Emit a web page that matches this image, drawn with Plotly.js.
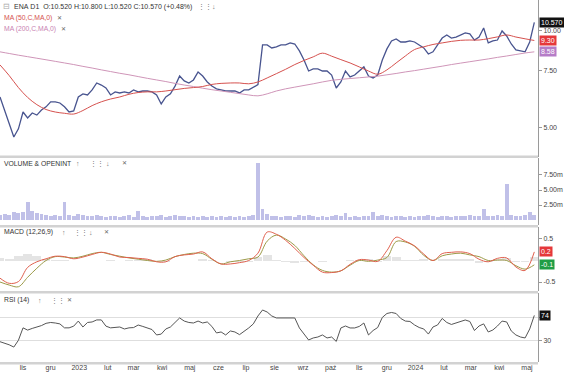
<!DOCTYPE html>
<html>
<head>
<meta charset="utf-8">
<script src="https://cdn.plot.ly/plotly-3.0.1.min.js"></script>
<style>html,body{margin:0;padding:0;background:#fff;}#chart{width:564px;height:378px;}</style>
</head>
<body>
<div id="chart"></div>
<script>
// ---- data (sampled every 5 calendar days from 2022-10-07) ----
const startDate = '2022-10-07';
const stepDays = 5;

const price = [6.23,5.64,5.11,4.69,4.97,5.60,5.37,5.56,5.48,5.68,
 5.81,6.02,6.02,5.97,5.81,5.60,5.64,6.23,6.37,6.32,
 6.55,6.88,6.78,6.64,6.32,6.46,6.41,6.46,6.41,6.55,
 6.46,6.50,6.50,6.46,6.32,5.93,6.23,6.37,6.73,7.23,
 6.98,6.88,7.03,7.44,7.23,6.93,6.73,6.60,6.55,6.50,
 6.50,6.50,6.41,6.55,6.55,6.69,6.80,9.01,9.01,8.82,
 8.89,9.01,9.01,9.14,9.07,8.64,8.10,7.49,7.60,7.60,
 7.49,7.49,7.28,6.64,6.93,7.49,7.18,7.28,7.49,7.71,
 7.23,7.13,7.28,8.10,8.76,9.27,9.40,9.20,9.20,9.27,
 9.20,9.01,8.82,8.45,8.58,9.01,9.46,9.67,9.46,9.53,
 9.67,9.81,9.74,9.33,9.53,10.16,9.14,9.27,9.33,9.95,
 9.60,9.07,8.70,8.64,8.58,9.20,10.57];

// every second sample (10-day step)
const ma50 = [7.82,7.25,6.66,6.21,5.90,5.70,5.60,5.55,5.52,5.66,
 5.86,6.02,6.14,6.23,6.35,6.43,6.46,6.46,6.50,6.56,
 6.62,6.66,6.71,6.81,6.86,6.88,6.88,6.84,6.93,7.13,
 7.35,7.58,7.84,8.07,8.28,8.50,8.32,8.12,7.93,7.71,
 7.49,7.32,7.55,7.93,8.33,8.72,8.89,9.04,9.14,9.24,
 9.31,9.33,9.33,9.42,9.54,9.67,9.53,9.41,9.30];

const ma200 = [8.58,8.48,8.38,8.29,8.20,8.11,8.02,7.93,7.84,7.74,
 7.65,7.55,7.46,7.37,7.29,7.20,7.11,7.03,6.95,6.86,
 6.78,6.71,6.63,6.56,6.50,6.44,6.38,6.32,6.28,6.37,
 6.50,6.60,6.68,6.76,6.84,6.93,7.01,7.06,7.10,7.14,
 7.18,7.22,7.29,7.36,7.44,7.51,7.59,7.67,7.75,7.84,
 7.92,8.00,8.08,8.16,8.25,8.33,8.42,8.51,8.58];

const volumeM = [0.8,1.0,0.9,1.3,1.1,1.4,3.0,1.5,1.2,1.0,
 0.8,0.7,0.9,0.6,3.0,0.8,0.6,1.0,0.9,0.7,
 0.6,0.8,0.7,0.5,0.6,0.7,0.5,0.6,0.8,0.5,
 1.5,0.6,0.5,0.7,0.6,0.8,0.5,0.6,0.9,0.7,
 0.6,0.5,0.7,0.5,0.6,0.5,0.7,0.5,0.6,0.5,
 0.7,0.5,0.6,0.5,0.6,0.8,9.5,1.8,1.0,0.7,
 0.6,0.5,0.7,0.6,0.5,0.9,0.7,0.8,0.6,0.5,
 0.6,0.5,0.6,0.9,0.6,1.2,0.5,0.6,0.5,0.7,
 0.6,1.3,0.7,0.8,0.6,0.5,0.7,0.6,0.5,0.6,
 0.5,0.7,0.6,0.9,0.6,0.5,0.7,0.6,0.5,0.6,
 0.7,0.6,0.8,0.6,0.7,1.8,0.7,0.6,0.8,0.6,
 6.0,0.8,0.7,0.6,0.8,1.3,0.9];

const macdLine = [-0.41,-0.53,-0.49,-0.16,-0.03,0.04,0.10,0.09,0.04,0.08,
 0.14,0.19,0.15,0.08,0.07,0.05,0.03,-0.03,-0.03,0.09,
 0.13,0.15,0.20,0.04,-0.08,-0.08,-0.05,0.00,0.17,0.66,
 0.61,0.47,0.28,0.07,-0.11,-0.27,-0.28,-0.24,-0.09,0.02,
 0.01,-0.02,0.23,0.54,0.45,0.34,0.15,0.00,0.16,0.19,
 0.20,0.16,0.03,-0.03,0.05,0.06,-0.15,-0.23,0.20];

const signalLine = [-0.50,-0.57,-0.61,-0.39,-0.18,0.00,0.09,0.08,0.06,0.10,
 0.16,0.19,0.14,0.10,0.06,0.03,0.00,-0.02,0.01,0.09,
 0.14,0.17,0.16,0.03,-0.08,-0.03,0.00,0.04,0.08,0.45,
 0.59,0.50,0.35,0.11,-0.10,-0.23,-0.27,-0.24,-0.11,0.00,
 -0.02,0.01,0.07,0.44,0.43,0.33,0.12,0.00,0.11,0.15,
 0.17,0.13,0.09,0.00,0.01,0.00,-0.12,-0.20,-0.10];

const macdHist = [0.06,0.04,0.10,0.14,0.10,0.04,0.01,0.01,-0.02,-0.02,
 -0.02,0.00,0.01,-0.02,0.01,0.02,0.03,-0.01,-0.04,0.00,
 -0.01,-0.02,0.04,0.01,0.00,-0.04,-0.04,-0.03,0.07,0.12,
 0.02,-0.03,-0.05,-0.04,-0.01,-0.03,-0.01,0.00,0.02,0.02,
 0.03,-0.03,0.10,0.08,0.02,0.01,0.03,0.00,0.04,0.04,
 0.03,0.03,-0.05,-0.03,0.04,0.05,-0.03,-0.03,0.08];

const rsi = [27.5,25,22,18,30,52,48,51,53.5,56,
 60,61.5,60.6,59,52,52,55,64,53.5,61.5,
 62.4,66,66,55,52,52.5,53.5,50,52,52.5,
 57,54.5,52,49,39.4,41,50,53.5,61.5,69.5,
 64,61.5,60.6,64,60.6,62.4,54.5,43,44.7,39.4,
 46.5,44.7,40,45.5,51.8,59,73,83.6,80,73,
 69.5,69.5,69.5,70.4,69.5,51.8,41,30.5,34.1,35.8,
 39.4,34.1,35.8,28,51.8,55.3,51.8,51.8,54.5,60.6,
 39.4,47.3,52.6,70.4,77.4,79.2,77.4,68.6,64,63.3,
 57.1,52.6,50,41,53.5,57.1,68.6,61.5,58,60.6,
 62.4,65.9,63.3,47.3,55.3,59,44.7,48.2,55.3,64,
 62.4,46.5,39.4,35.8,34.1,50,74];

const monthTickDates = ['2022-11-01','2022-12-01','2023-01-01','2023-02-01','2023-03-01','2023-04-01','2023-05-01','2023-06-01','2023-07-01','2023-08-01','2023-09-01','2023-10-01','2023-11-01','2023-12-01','2024-01-01','2024-02-01','2024-03-01','2024-04-01','2024-05-01'];
const monthTickLabels = ['lis','gru','2023','lut','mar','kwi','maj','cze','lip','sie','wrz','paź','lis','gru','2024','lut','mar','kwi','maj'];

const headerText = 'ENA\u00a0D1\u00a0\u00a0O:10.520\u00a0H:10.800\u00a0L:10.520\u00a0C:10.570\u00a0(+0.48%)';

// ---- helpers ----
const DAY = 864e5;
const t0 = Date.parse(startDate + 'T00:00:00Z');
const dateAt = i => new Date(t0 + i * stepDays * DAY).toISOString().slice(0, 10);
const dates5 = price.map((_, i) => dateAt(i));
const dates10 = ma50.map((_, j) => dateAt(2 * j));

const W = 538, H = 363;
const px = x => x / W;
const py = y => (H - y) / H;
const last = a => a[a.length - 1];

const FONT = 'Liberation Sans, Arial, sans-serif';

const traces = [
  {x: dates5, y: price, type: 'scatter', mode: 'lines', xaxis: 'x', yaxis: 'y',
   line: {color: '#48548f', width: 1.3}, hoverinfo: 'skip'},
  {x: dates10, y: ma200, type: 'scatter', mode: 'lines', xaxis: 'x', yaxis: 'y',
   line: {color: '#cf95b8', width: 1, shape: 'spline'}, hoverinfo: 'skip'},
  {x: dates10, y: ma50, type: 'scatter', mode: 'lines', xaxis: 'x', yaxis: 'y',
   line: {color: '#d5514e', width: 1, shape: 'spline'}, hoverinfo: 'skip'},
  {x: dates5, y: volumeM, type: 'bar', xaxis: 'x', yaxis: 'y2',
   marker: {color: 'rgba(130,130,210,0.5)', line: {width: 0}}, width: 4.2 * DAY, hoverinfo: 'skip'},
  {x: dates10, y: macdHist, type: 'bar', xaxis: 'x', yaxis: 'y3',
   marker: {color: '#e4e4e4', line: {width: 0}}, width: 9.5 * DAY, hoverinfo: 'skip'},
  {x: dates10, y: signalLine, type: 'scatter', mode: 'lines', xaxis: 'x', yaxis: 'y3',
   line: {color: '#9c9a48', width: 1, shape: 'spline'}, hoverinfo: 'skip'},
  {x: dates10, y: macdLine, type: 'scatter', mode: 'lines', xaxis: 'x', yaxis: 'y3',
   line: {color: '#e0604e', width: 1, shape: 'spline'}, hoverinfo: 'skip'},
  {x: dates5, y: rsi, type: 'scatter', mode: 'lines', xaxis: 'x', yaxis: 'y4',
   line: {color: '#555555', width: 1}, hoverinfo: 'skip'}
];

const yCommon = {
  side: 'right', anchor: 'x', showline: true, linecolor: '#9a9a9a', linewidth: 1,
  ticks: 'outside', ticklen: 3, tickcolor: '#9a9a9a',
  tickfont: {family: FONT, size: 7, color: '#444'}, zeroline: false, showgrid: false,
  fixedrange: true
};

const txt = (x, y, text, color, size) => ({
  xref: 'paper', yref: 'paper', x: px(x), y: py(y), text: text, showarrow: false,
  xanchor: 'left', yanchor: 'middle', font: {family: FONT, size: size || 7, color: color || '#333'}
});
const box = (yref, yval, text, bg) => ({
  xref: 'paper', yref: yref, x: 1, y: yval, text: text, showarrow: false,
  xanchor: 'left', yanchor: 'middle', xshift: 1, bgcolor: bg, borderpad: 1,
  font: {family: FONT, size: 7, color: '#ffffff'}
});

const annotations = [
  txt(1, 7, '\u229f', '#aaa', 8),
  txt(12, 7, headerText, '#333', 7),
  txt(196, 7, '\u22ee\u22ee', '#777'),
  txt(210, 7, '\u2193', '#777'),
  txt(2, 18, 'MA (50,C,MA,0)', '#d5514e', 6.8),
  txt(55, 18, '\u2715', '#666', 6),
  txt(2, 29, 'MA (200,C,MA,0)', '#c982b2', 6.8),
  txt(59, 29, '\u2715', '#666', 6),
  txt(2, 163, 'VOLUME & OPENINT', '#333', 6.8),
  txt(74, 163, '\u2191', '#777'),
  txt(88, 163, '\u22ee\u22ee', '#777'),
  txt(104, 163, '\u2193', '#777'),
  txt(120, 163, '\u2715', '#666', 6),
  txt(2, 232, 'MACD (12,26,9)', '#333', 6.8),
  txt(60, 232, '\u2191', '#777'),
  txt(72, 232, '\u22ee\u22ee', '#777'),
  txt(87, 232, '\u2193', '#777'),
  txt(102, 232, '\u2715', '#666', 6),
  txt(2, 300, 'RSI (14)', '#333', 6.8),
  txt(36, 300, '\u2191', '#777'),
  txt(49, 300, '\u22ee\u22ee', '#777'),
  txt(65, 300, '\u2715', '#666', 6),
  box('y', Math.log10(last(price)), last(price).toFixed(3), '#111111'),
  box('y', Math.log10(last(ma50)), last(ma50).toFixed(2), '#e5383b'),
  box('y', Math.log10(last(ma200)), last(ma200).toFixed(2), '#b57cc7'),
  box('y3', last(macdLine), last(macdLine).toFixed(1), '#e5383b'),
  box('y3', last(signalLine), last(signalLine).toFixed(1), '#1f9d45'),
  box('y4', last(rsi), String(Math.round(last(rsi))), '#111111')
];

const band = (y0, y1) => ({type: 'rect', xref: 'paper', yref: 'paper', x0: 0, x1: 1,
  y0: py(y1), y1: py(y0), fillcolor: '#d2d2d2', line: {width: 0}, layer: 'above'});

const layout = {
  width: 564, height: 378,
  margin: {l: 0, r: 26, t: 0, b: 15, pad: 0},
  paper_bgcolor: '#ffffff', plot_bgcolor: '#ffffff',
  showlegend: false, bargap: 0,
  font: {family: FONT, size: 7, color: '#444'},
  xaxis: {
    type: 'date', anchor: 'y4', range: ['2022-10-07', '2024-05-13'],
    tickmode: 'array', tickvals: monthTickDates, ticktext: monthTickLabels,
    tickfont: {family: FONT, size: 7, color: '#444'}, ticks: '', showgrid: false,
    showline: false, zeroline: false, fixedrange: true
  },
  yaxis: Object.assign({}, yCommon, {
    type: 'log', domain: [0.567, 1], range: [0.6091, 1.0931],
    tickmode: 'array', tickvals: [5, 7.5, 10], ticktext: ['5.00', '7.50', '10.00']
  }),
  yaxis2: Object.assign({}, yCommon, {
    domain: [0.3802, 0.5647], range: [-0.83, 10.33],
    tickmode: 'array', tickvals: [2.5, 5, 7.5], ticktext: ['2.50m', '5.00m', '7.50m']
  }),
  yaxis3: Object.assign({}, yCommon, {
    domain: [0.1983, 0.3733], range: [-0.709, 0.767],
    tickmode: 'array', tickvals: [-0.5, 0.5], ticktext: ['-0.5', '0.5']
  }),
  yaxis4: Object.assign({}, yCommon, {
    domain: [0.0028, 0.1915], range: [-8.4, 112.8],
    tickmode: 'array', tickvals: [30, 70], ticktext: ['30', ''],
    showgrid: true, gridcolor: '#dedede', gridwidth: 1
  }),
  shapes: [band(155.5, 158), band(225, 227.5), band(291, 293.5), band(362, 364.5)],
  annotations: annotations
};

Plotly.newPlot('chart', traces, layout, {staticPlot: true, displayModeBar: false});
</script>
</body>
</html>
